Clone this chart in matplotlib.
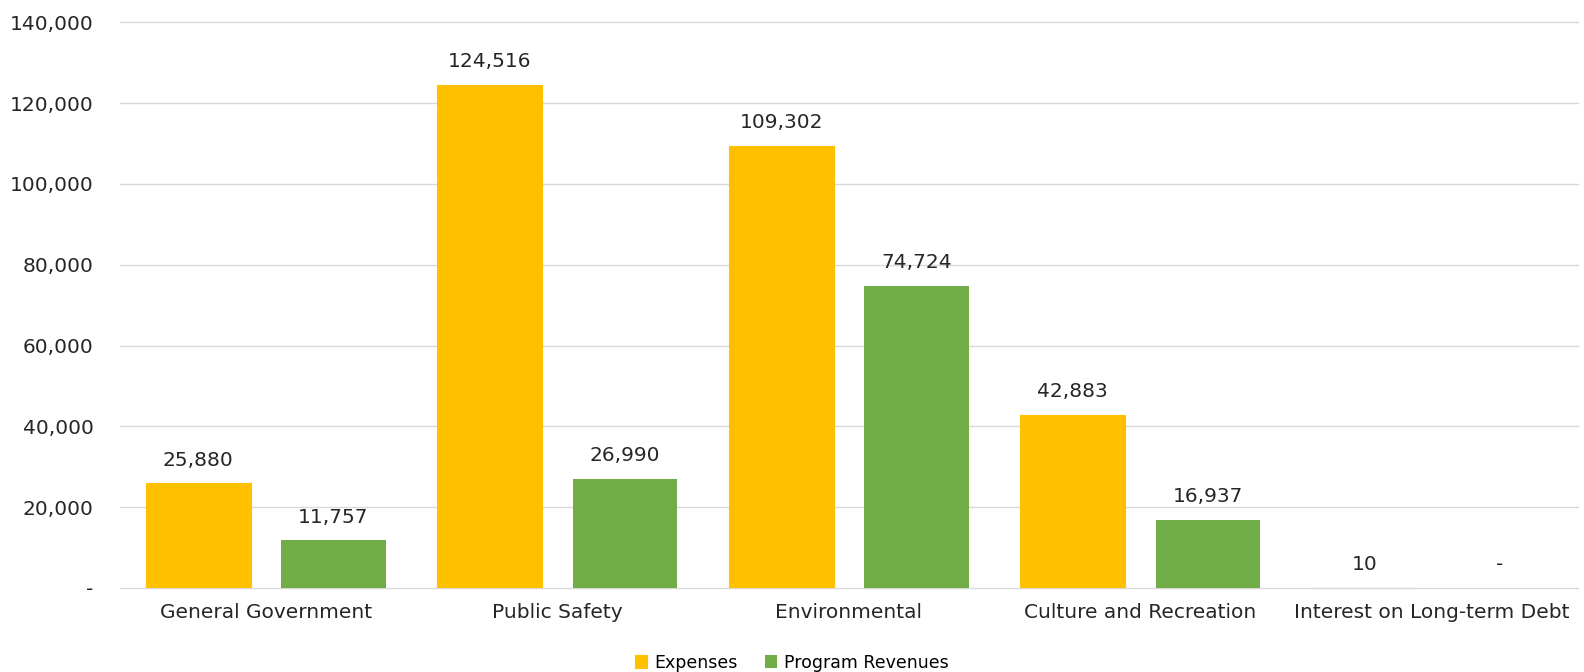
import matplotlib
matplotlib.use("Agg")
import matplotlib.pyplot as plt
import numpy as np
from matplotlib.ticker import FuncFormatter

categories = ["General Government", "Public Safety", "Environmental",
              "Culture and Recreation", "Interest on Long-term Debt"]
expenses = [25880, 124516, 109302, 42883, 10]
revenues = [11757, 26990, 74724, 16937, 0]
series_names = ["Expenses", "Program Revenues"]
colors = ["#FFC000", "#70AD47"]

plt.rcParams['font.family'] = ['DejaVu Sans']

fig = plt.figure(figsize=(15.84, 6.72), dpi=100)
ax = fig.add_axes([0.0758, 0.125, 0.9202, 0.842])

x = np.arange(len(categories))
w = 0.36
off = 0.232
b1 = ax.bar(x - off, expenses, w, color=colors[0], edgecolor=colors[0],
            linewidth=0.8, label=series_names[0], zorder=3)
b2 = ax.bar(x + off, revenues, w, color=colors[1], linewidth=0,
            label=series_names[1], zorder=3)

def fmt(v):
    return "-" if v == 0 else f"{v:,.0f}"

for bars, vals in ((b1, expenses), (b2, revenues)):
    for r, v in zip(bars, vals):
        ax.annotate(fmt(v), (r.get_x() + r.get_width() / 2, v),
                    xytext=(0, 10), textcoords="offset points",
                    ha="center", va="bottom", fontsize=14.5, color="#262626")

ax.set_xlim(-0.5, len(categories) - 0.5)
ax.set_ylim(0, 140000)
ax.set_yticks(np.arange(0, 140001, 20000))
ax.yaxis.set_major_formatter(FuncFormatter(lambda v, p: fmt(v)))
ax.set_xticks(x)
ax.set_xticklabels(categories)
ax.tick_params(axis='both', length=0, labelsize=14.5, colors="#262626")
ax.tick_params(axis='y', pad=19)
ax.tick_params(axis='x', pad=11)
ax.grid(axis='y', color="#D9D9D9", linewidth=1, zorder=0)
for gl in ax.get_ygridlines():
    gl.set_clip_on(False)
for s in ax.spines.values():
    s.set_visible(False)

fig.legend(handles=[b1, b2], loc="center", bbox_to_anchor=(0.5, 0.014), ncol=2,
           frameon=False, fontsize=12.5, handlelength=0.7, handleheight=0.7,
           columnspacing=1.6, handletextpad=0.4)

fig.savefig("out.png", dpi=100)
